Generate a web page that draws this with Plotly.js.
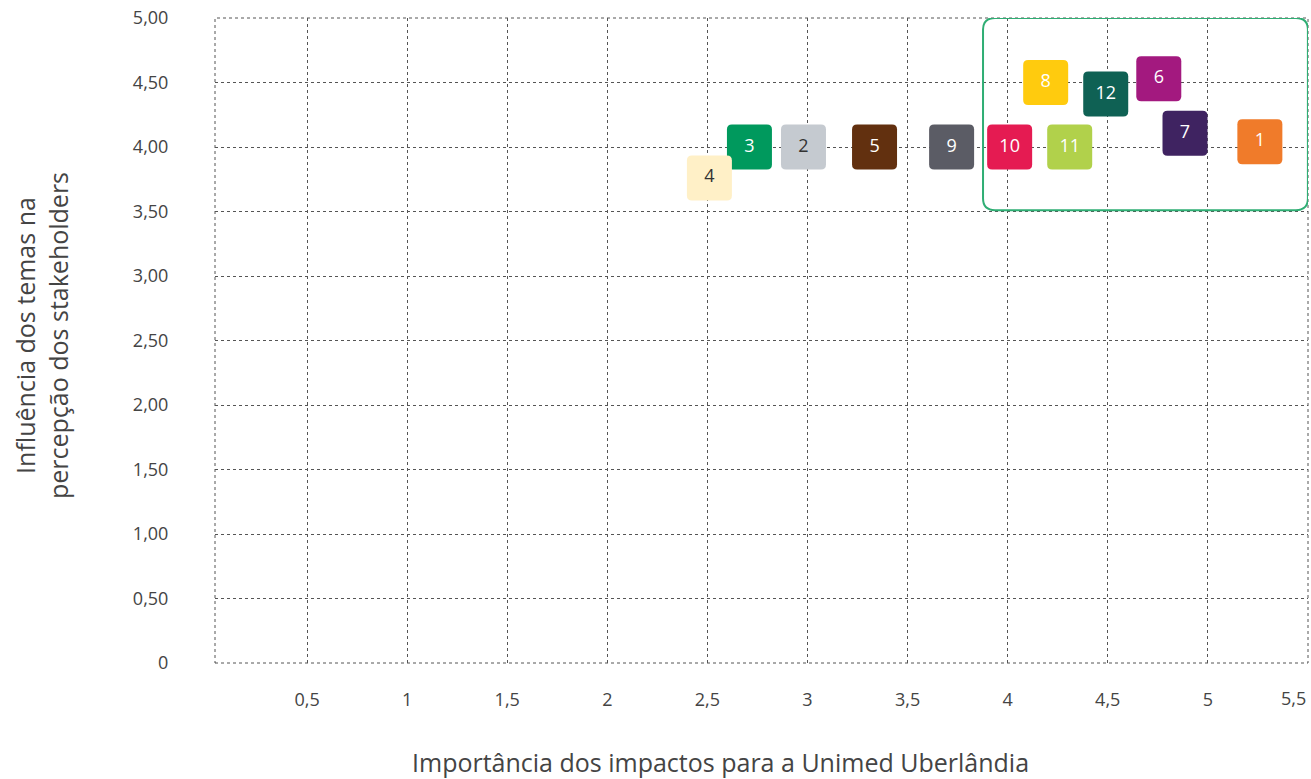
<!DOCTYPE html>
<html><head><meta charset="utf-8">
<script src="https://cdn.plot.ly/plotly-3.0.1.min.js"></script>
<style>html,body{margin:0;padding:0;background:#fff}</style>
</head><body>
<div id="chart" style="width:1311px;height:779px"></div>
<script>
const temas = ["1","2","3","4","5","6","7","8","9","10","11","12"];
const importancia = [5.26, 2.98, 2.71, 2.51, 3.335, 4.755, 4.886, 4.19, 3.72, 4.01, 4.31, 4.49];
const influencia = [4.04, 4.00, 4.00, 3.76, 4.00, 4.53, 4.106, 4.50, 4.00, 4.00, 4.00, 4.41];
const cores = ["#F07B2A","#C5CAD0","#00995D","#FFF0C7","#62300F","#A3197F","#3F2361","#FFCB0E","#5B5C65","#E51B52","#B1D14B","#0F6154"];
const coresTexto = ["#fff","#333","#fff","#333","#fff","#fff","#fff","#fff","#fff","#fff","#fff","#fff"];
const xTickVals = [0.5,1,1.5,2,2.5,3,3.5,4,4.5,5,5.5];
const xTickText = ["0,5","1","1,5","2","2,5","3","3,5","4","4,5","5","5,5"];
const yTickVals = [0,0.5,1,1.5,2,2.5,3,3.5,4,4.5,5];
const yTickText = ["0","0,50","1,00","1,50","2,00","2,50","3,00","3,50","4,00","4,50","5,00"];
const destaque = {x0: 3.877, x1: 5.5, y0: 3.51, y1: 5.0};

function roundRectPx(h, r) {
  return `M ${-h+r},${-h} L ${h-r},${-h} Q ${h},${-h} ${h},${-h+r} L ${h},${h-r} Q ${h},${h} ${h-r},${h} L ${-h+r},${h} Q ${-h},${h} ${-h},${h-r} L ${-h},${-h+r} Q ${-h},${-h} ${-h+r},${-h} Z`;
}
function roundRectData(b, rx, ry) {
  return `M ${b.x0+rx},${b.y0} L ${b.x1-rx},${b.y0} Q ${b.x1},${b.y0} ${b.x1},${b.y0+ry} L ${b.x1},${b.y1-ry} Q ${b.x1},${b.y1} ${b.x1-rx},${b.y1} L ${b.x0+rx},${b.y1} Q ${b.x0},${b.y1} ${b.x0},${b.y1-ry} L ${b.x0},${b.y0+ry} Q ${b.x0},${b.y0} ${b.x0+rx},${b.y0} Z`;
}

const shapes = [];
shapes.push({type:'rect', xref:'paper', yref:'paper', x0:0, x1:1, y0:0, y1:1,
  line:{color:'#555', width:1, dash:'dot'}, layer:'between'});
temas.forEach((t,i) => {
  shapes.push({type:'path', xref:'x', yref:'y', xsizemode:'pixel', ysizemode:'pixel',
    xanchor: importancia[i], yanchor: influencia[i], path: roundRectPx(22.5, 5),
    fillcolor: cores[i], line:{width:0}, layer:'between'});
});
shapes.push({type:'path', xref:'x', yref:'y', path: roundRectData(destaque, 0.06, 0.09),
  line:{color:'#2FAE74', width:2}, fillcolor:'rgba(0,0,0,0)', layer:'above'});

const trace = {
  type:'scatter', mode:'text', x: importancia, y: influencia, text: temas,
  textposition:'middle center',
  textfont:{family:'Open Sans, sans-serif', size:18, color: coresTexto},
  hoverinfo:'none', showlegend:false
};

// last x tick label is right-aligned to the plot edge (as in the reference)
const lastIdx = xTickVals.length - 1;
const xTickTextAxis = xTickText.map((t, i) => i === lastIdx ? '' : t);

const layout = {
  width:1311, height:779,
  margin:{l:215, r:3, t:18, b:116},
  paper_bgcolor:'#fff', plot_bgcolor:'#fff',
  font:{family:'Open Sans, sans-serif', color:'#444', size:18},
  xaxis:{range:[0.04,5.5005], tickvals:xTickVals, ticktext:xTickTextAxis, showgrid:true,
    gridcolor:'#555', griddash:'dot', gridwidth:1, zeroline:false, showline:false,
    ticks:'outside', ticklen:20, tickcolor:'rgba(0,0,0,0)', tickfont:{size:18, color:'#444'},
    fixedrange:true},
  yaxis:{range:[0,5], tickvals:yTickVals, ticktext:yTickText, showgrid:true,
    gridcolor:'#555', griddash:'dot', gridwidth:1, zeroline:false, showline:false,
    ticks:'outside', ticklen:42, tickcolor:'rgba(0,0,0,0)', tickfont:{size:18, color:'#444'}, fixedrange:true},
  shapes: shapes,
  annotations:[
    {text: xTickText[lastIdx], xref:'x', yref:'paper', x: xTickVals[lastIdx], y: -(698-663)/645,
     xanchor:'right', yanchor:'middle', showarrow:false, font:{size:18, color:'#444'}},
    {text:'Importância dos impactos para a Unimed Uberlândia', xref:'paper', yref:'paper',
     x:(720-215)/1093, y:-(762-663)/645, xanchor:'center', yanchor:'middle', showarrow:false,
     font:{size:25, color:'#444'}},
    {text:'Influência dos temas na<br>percepção dos stakeholders', xref:'paper', yref:'paper',
     x:-(215-41)/1093, y:(663-336)/645, xanchor:'center', yanchor:'middle', showarrow:false,
     textangle:-90, font:{size:25, color:'#444'}}
  ]
};
Plotly.newPlot('chart', [trace], layout, {displayModeBar:false, staticPlot:true});
</script>
</body></html>
